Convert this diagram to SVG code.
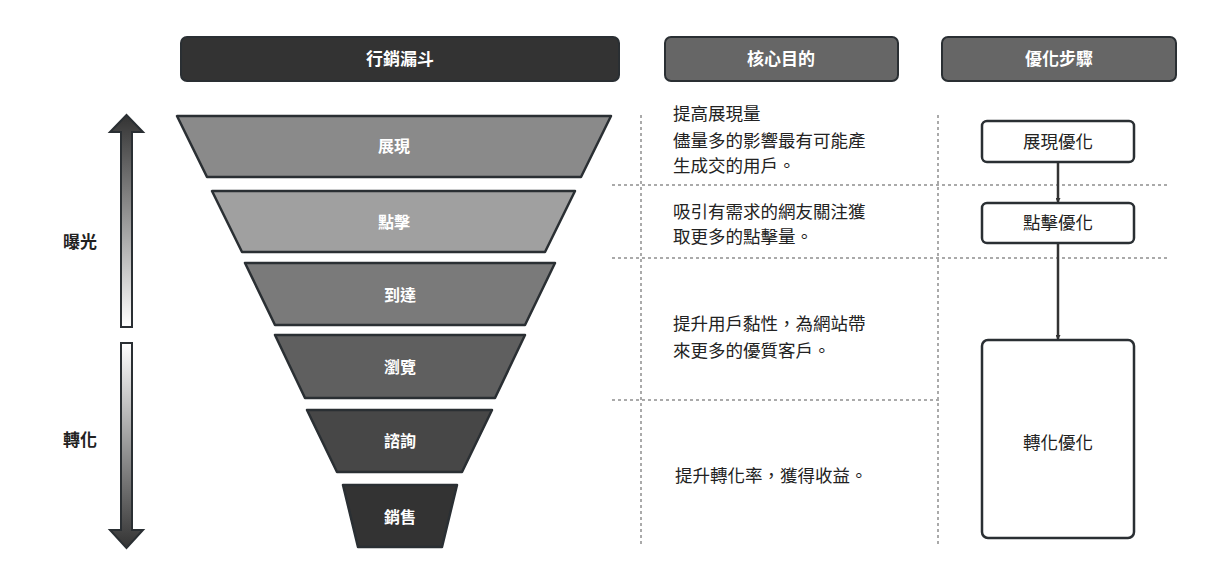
<svg xmlns="http://www.w3.org/2000/svg" width="1209" height="583" viewBox="0 0 1209 583">
<style>
text{font-family:"Noto Sans CJK TC","Noto Sans CJK SC",sans-serif}
.hd{fill:#fff;font-size:17px;font-weight:bold;text-anchor:middle}
.fn{fill:#fff;font-size:16px;font-weight:bold;text-anchor:middle}
.tr{stroke:#2a2f33;stroke-width:2.5;stroke-linejoin:round}
.ds{stroke:#aaa;stroke-width:2;stroke-dasharray:3 3;fill:none}
.bx{fill:#fff;stroke:#2a2f33;stroke-width:2.5}
.tx{fill:#222;font-size:17.5px}
.lb{fill:#222;font-size:17px;font-weight:bold;text-anchor:middle}
</style>
<defs>
<linearGradient id="gu" x1="0" y1="0" x2="0" y2="1"><stop offset="0" stop-color="#333"/><stop offset="1" stop-color="#fff"/></linearGradient>
<linearGradient id="gd" x1="0" y1="0" x2="0" y2="1"><stop offset="0" stop-color="#fff"/><stop offset="1" stop-color="#333"/></linearGradient>
<marker id="ar" viewBox="0 0 10 10" refX="10" refY="5" markerWidth="5" markerHeight="5" orient="auto" markerUnits="userSpaceOnUse"><path d="M0,0L10,5L0,10z" fill="#333"/></marker>
</defs>
<g id="headers">
<rect x="181" y="37" width="438" height="44" rx="6" fill="#333" stroke="#2a2f33" stroke-width="2"/><text class="hd" x="400" y="65">行銷漏斗</text>
<rect x="665" y="37" width="233" height="44" rx="6" fill="#666" stroke="#2a2f33" stroke-width="2"/><text class="hd" x="781" y="65">核心目的</text>
<rect x="942" y="37" width="234" height="44" rx="6" fill="#666" stroke="#2a2f33" stroke-width="2"/><text class="hd" x="1059" y="65">優化步驟</text>
</g>
<g id="side-arrows">
<path d="M121,327V132H110L126.5,115L143,132H132V327Z" fill="url(#gu)" stroke="#2a2f33" stroke-width="2"/>
<path d="M121,343H132V530H143L126.5,548L110,530H121Z" fill="url(#gd)" stroke="#2a2f33" stroke-width="2"/>
<text class="lb" x="80" y="248">曝光</text>
<text class="lb" x="80" y="446">轉化</text>
</g>
<g id="funnel">
<g id="f1"><path class="tr" d="M177,116H611L581,177H207Z" fill="#8a8a8a"/><text class="fn" x="394" y="152">展現</text></g>
<g id="f2"><path class="tr" d="M212,191H575L545,252H242Z" fill="#a0a0a0"/><text class="fn" x="394" y="228">點擊</text></g>
<g id="f3"><path class="tr" d="M245,263H555L525,325H275Z" fill="#7a7a7a"/><text class="fn" x="400" y="301">到達</text></g>
<g id="f4"><path class="tr" d="M275,335H525L495,398H305Z" fill="#5f5f5f"/><text class="fn" x="400" y="373">瀏覽</text></g>
<g id="f5"><path class="tr" d="M307,410H492L462,472H337Z" fill="#474747"/><text class="fn" x="400" y="447">諮詢</text></g>
<g id="f6"><path class="tr" d="M343,485H457L442,547H358Z" fill="#333"/><text class="fn" x="400" y="523">銷售</text></g>
</g>
<g id="grid">
<line class="ds" x1="641" y1="115" x2="641" y2="545"/>
<line class="ds" x1="938" y1="115" x2="938" y2="545"/>
<line class="ds" x1="612" y1="185" x2="1170" y2="185"/>
<line class="ds" x1="612" y1="258" x2="1170" y2="258"/>
<line class="ds" x1="612" y1="400" x2="940" y2="400"/>
</g>
<g id="goals">
<text class="tx" x="673" y="120">提高展現量</text>
<text class="tx" x="673" y="147">儘量多的影響最有可能產</text>
<text class="tx" x="673" y="172">生成交的用戶。</text>
<text class="tx" x="673" y="218">吸引有需求的網友關注獲</text>
<text class="tx" x="673" y="243">取更多的點擊量。</text>
<text class="tx" x="673" y="330">提升用戶黏性，為網站帶</text>
<text class="tx" x="673" y="357">來更多的優質客戶。</text>
<text class="tx" x="675" y="482">提升轉化率，獲得收益。</text>
</g>
<g id="connectors">
<line x1="1058" y1="162" x2="1058" y2="203" stroke="#333" stroke-width="2.5" marker-end="url(#ar)"/>
<line x1="1058" y1="243" x2="1058" y2="340" stroke="#333" stroke-width="2.5" marker-end="url(#ar)"/>
</g>
<g id="s1"><rect class="bx" x="982" y="121" width="152" height="41" rx="5"/><text class="tx" x="1058" y="148" text-anchor="middle">展現優化</text></g>
<g id="s2"><rect class="bx" x="982" y="203" width="152" height="40" rx="5"/><text class="tx" x="1058" y="229" text-anchor="middle">點擊優化</text></g>
<g id="s3"><rect class="bx" x="982" y="340" width="152" height="198" rx="6"/><text class="tx" x="1058" y="449" text-anchor="middle">轉化優化</text></g>
</svg>
